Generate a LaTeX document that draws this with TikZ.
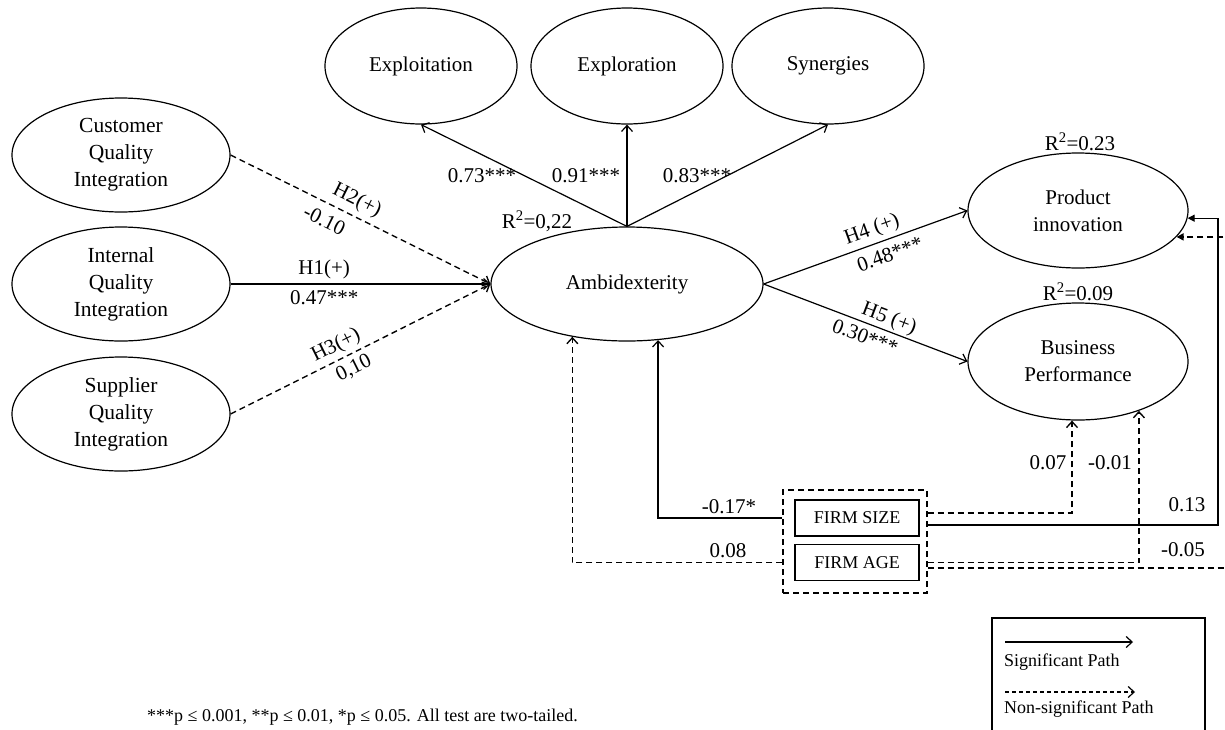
\documentclass[tikz,border=0pt]{standalone}
\usepackage{fontspec}
\setmainfont{Liberation Serif}
\usetikzlibrary{shapes.geometric,arrows.meta,calc}
\begin{document}
\begin{tikzpicture}[x=1pt,y=-1pt,
  every node/.style={font=\fontsize{21}{27}\selectfont},
  cons/.style={draw, ellipse, line width=1.2pt, inner sep=0pt, align=center},
  dim/.style={cons, minimum width=192pt, minimum height=116pt},
  src/.style={cons, minimum width=218pt, minimum height=114pt, font=\fontsize{21.5}{27}\selectfont},
  outc/.style={cons, minimum width=220pt, minimum height=116pt},
  lbl/.style={inner sep=1pt},
  small/.style={font=\fontsize{18}{22}\selectfont},
  ctrlbox/.style={draw, line width=1.2pt, minimum width=124pt, minimum height=36pt, inner sep=0pt, small},
  sig/.style={line width=1.2pt, -{Straight Barb[length=6pt,width=11pt]}},
  nsig/.style={sig, line width=1.35pt, dash pattern=on 6pt off 4pt},
  fillsig/.style={line width=1.2pt, -{Triangle[length=7pt,width=7pt]}},
  fillnsig/.style={fillsig, line width=1.35pt, dash pattern=on 6pt off 4pt}]

\fill[white] (0,0) rectangle (1225,729);
\useasboundingbox (0,0) rectangle (1225,729);

% first-order dimensions of ambidexterity
\node[dim] (expt) at (421,66) {Exploitation};
\node[dim] (expr) at (627,66) {Exploration};
\node[dim] (syn)  at (828,66) {Synergies};

% quality integration constructs
\node[src] (cust) at (121,155) {Customer\\Quality\\Integration};
\node[src] (intl) at (121,284) {Internal\\Quality\\Integration};
\node[src] (supp) at (121,414) {Supplier\\Quality\\Integration};

% central construct and outcomes
\node[cons, minimum width=272pt, minimum height=114pt] (amb) at (627,284) {Ambidexterity};
\node[outc, minimum height=115pt] (pi) at (1078,210.5) {Product\\innovation};
\node[outc, minimum height=117pt] (bp) at (1078,361.5) {Business\\Performance};

% explained variance
\node (r2amb) at (537,221) {R\textsuperscript{2}=0,22};
\node (r2pi)  at (1080,142) {R\textsuperscript{2}=0.23};
\node (r2bp)  at (1078,292) {R\textsuperscript{2}=0.09};

% loadings
\draw[sig] (amb.north) -- (expt.south);
\draw[sig] (amb.north) -- (expr.south);
\draw[sig] (amb.north) -- (syn.south);
\node (l73) at (482,176) {0.73***};
\node (l91) at (586,176) {0.91***};
\node (l83) at (697,176) {0.83***};

% hypotheses
\draw[nsig] (cust.east) --
  node[lbl, pos=0.46, sloped, above=4pt] {H2(+)}
  node[lbl, pos=0.39, sloped, below=8pt] {-0.10} (amb.west);
\draw[sig] (intl.east) --
  node[lbl, pos=0.36, above=3.5pt] {H1(+)}
  node[lbl, pos=0.36, below=5pt] {0.47***} (amb.west);
\draw[nsig] (supp.east) --
  node[lbl, pos=0.43, sloped, above=2.5pt] {H3(+)}
  node[lbl, pos=0.45, sloped, below=4pt] {0,10} (amb.west);
\draw[sig] (amb.east) --
  node[lbl, pos=0.556, sloped, above=3pt] {H4 (+)}
  node[lbl, pos=0.595, sloped, below=6pt] {0.48***} (pi.west);
\draw[sig] (amb.east) --
  node[lbl, pos=0.595, sloped, above=0.5pt] {H5 (+)}
  node[lbl, pos=0.522, sloped, below=4.5pt] {0.30***} (bp.west);

% control variables
\node[draw, dash pattern=on 6pt off 4pt, line width=1.3pt, minimum width=144pt, minimum height=103pt, inner sep=0pt] (ctrl) at (855,541.5) {};
\node[ctrlbox] (size) at (857,518) {FIRM SIZE};
\node[ctrlbox] (age)  at (857,562.5) {FIRM AGE};

\coordinate (sizeHi) at ($(ctrl.east |- size.east)+(0,-5)$);
\coordinate (sizeLo) at ($(ctrl.east |- size.east)+(0,7)$);
\coordinate (ageHi)  at (ctrl.east |- age.east);
\coordinate (ageLo)  at ($(ctrl.east |- age.east)+(0,5.5)$);
\coordinate (railIn)  at (1218,0);
\coordinate (railOut) at (1240,0);

\draw[sig]  (ctrl.west |- size.west) -| (amb.-61);
\draw[nsig] (ctrl.west |- age.west) -| (amb.-136);
\draw[nsig] (sizeHi) -| ([xshift=-6pt]bp.south);
\draw[nsig] (ageHi) -| (bp.-39);
\draw[fillsig]  (sizeLo) -- (sizeLo -| railIn) |- (pi.-4);
\draw[fillnsig] (ageLo) -- (ageLo -| railOut) |- (pi.-15);

\node (l17) at (729,507) {-0.17*};
\node (l08) at (728,551) {0.08};
\node (l07) at (1048,463) {0.07};
\node (l01) at (1110,463) {-0.01};
\node (l13) at (1187,505) {0.13};
\node (l05) at (1183,550) {-0.05};

% legend
\draw[line width=1.2pt] (992,618) rectangle (1205,745);
\coordinate (sigA) at (1005,642);
\coordinate (sigB) at (1133,642);
\coordinate (nsA) at (1005,692);
\coordinate (nsB) at (1135,692);
\draw[sig] (sigA) -- (sigB);
\draw[sig, dash pattern=on 4pt off 3pt] (nsA) -- (nsB);
\node[small, anchor=west, inner sep=0pt] (sigT) at (1004,662) {Significant Path};
\node[small, anchor=west, inner sep=0pt] (nsT) at (1004,709) {Non-significant Path};

% significance note
\node[small, anchor=west, inner sep=0pt] (note) at (147,717) {***p ≤ 0.001, **p ≤ 0.01, *p ≤ 0.05. All test are two-tailed.};
\end{tikzpicture}
\end{document}
